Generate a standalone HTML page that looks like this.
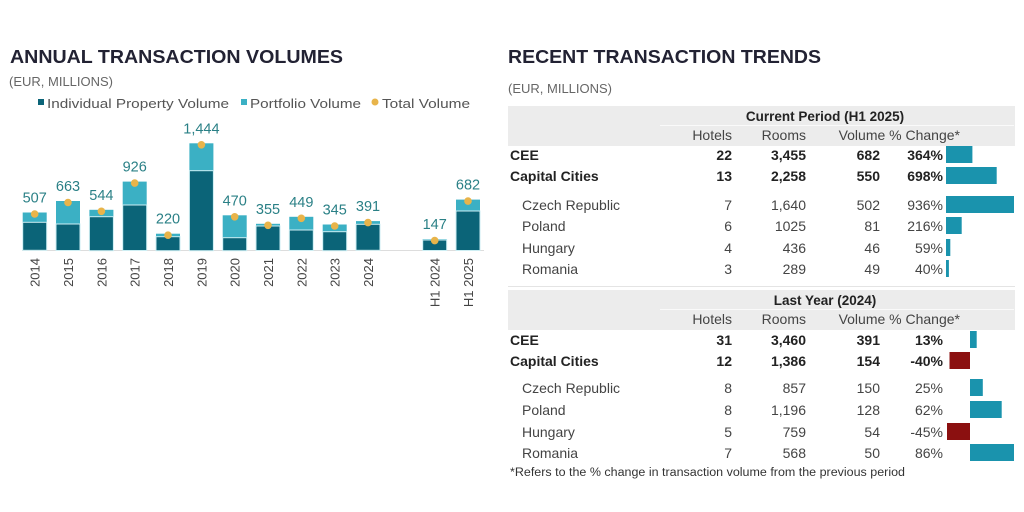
<!DOCTYPE html><html><head><style>body{margin:0;background:#fff}svg{display:block}</style></head><body>
<svg width="1024" height="512" xmlns="http://www.w3.org/2000/svg" font-family="Liberation Sans, sans-serif">
<rect width="1024" height="512" fill="#fff"/>
<text x="10" y="63" font-size="18" font-weight="bold" fill="#222233" textLength="333" lengthAdjust="spacingAndGlyphs">ANNUAL TRANSACTION VOLUMES</text>
<text x="9" y="86" font-size="13" fill="#666">(EUR, MILLIONS)</text>
<g font-size="13" fill="#555">
<rect x="38" y="99" width="6" height="6" fill="#0b6478"/><text x="47" y="108" textLength="182" lengthAdjust="spacingAndGlyphs">Individual Property Volume</text>
<rect x="241" y="99" width="6" height="6" fill="#3bb0c4"/><text x="250" y="108" textLength="111" lengthAdjust="spacingAndGlyphs">Portfolio Volume</text>
<circle cx="375" cy="102" r="3.5" fill="#e8b44a"/><text x="382" y="108" textLength="88" lengthAdjust="spacingAndGlyphs">Total Volume</text>
</g>
<line x1="22" y1="250.5" x2="484" y2="250.5" stroke="#ddd"/>
<g fill="#3bb0c4">
<rect x="22.7" y="212.5" width="24" height="37.5"/>
<rect x="56" y="201" width="24" height="49"/>
<rect x="89.4" y="209.8" width="24" height="40.2"/>
<rect x="122.7" y="181.6" width="24" height="68.4"/>
<rect x="156" y="233.7" width="24" height="16.3"/>
<rect x="189.4" y="143.3" width="24" height="106.7"/>
<rect x="222.7" y="215.3" width="24" height="34.7"/>
<rect x="256" y="223.8" width="24" height="26.2"/>
<rect x="289.3" y="216.8" width="24" height="33.2"/>
<rect x="322.7" y="224.5" width="24" height="25.5"/>
<rect x="356" y="221.1" width="24" height="28.9"/>
<rect x="422.7" y="239.1" width="24" height="10.9"/>
<rect x="456" y="199.6" width="24" height="50.4"/>
</g>
<g fill="#0b6478" stroke="#cdeef3" stroke-width="1">
<rect x="22.7" y="222.3" width="24" height="28"/>
<rect x="56" y="224" width="24" height="26.5"/>
<rect x="89.4" y="216.7" width="24" height="34"/>
<rect x="122.7" y="205" width="24" height="45.5"/>
<rect x="156" y="236.7" width="24" height="14"/>
<rect x="189.4" y="170.7" width="24" height="80"/>
<rect x="222.7" y="237.7" width="24" height="13"/>
<rect x="256" y="226" width="24" height="24.5"/>
<rect x="289.3" y="230" width="24" height="20.5"/>
<rect x="322.7" y="231.7" width="24" height="19"/>
<rect x="356" y="224.3" width="24" height="26"/>
<rect x="422.7" y="240" width="24" height="10.5"/>
<rect x="456" y="211" width="24" height="39.5"/>
</g>
<g fill="#e8b44a">
<circle cx="34.7" cy="214" r="3.8"/><circle cx="68" cy="202.5" r="3.8"/><circle cx="101.4" cy="211.3" r="3.8"/><circle cx="134.7" cy="183.1" r="3.8"/><circle cx="168" cy="235.2" r="3.8"/><circle cx="201.4" cy="144.8" r="3.8"/><circle cx="234.7" cy="216.8" r="3.8"/><circle cx="268" cy="225.3" r="3.8"/><circle cx="301.3" cy="218.3" r="3.8"/><circle cx="334.7" cy="226" r="3.8"/><circle cx="368" cy="222.6" r="3.8"/><circle cx="434.7" cy="240.6" r="3.8"/><circle cx="468" cy="201.1" r="3.8"/>
</g>
<g font-size="14.5" fill="#2a8086" text-anchor="middle">
<text x="34.7" y="202.5">507</text><text x="68" y="191">663</text><text x="101.4" y="199.8">544</text><text x="134.7" y="171.6">926</text><text x="168" y="223.7">220</text><text x="201.4" y="133.3">1,444</text><text x="234.7" y="205.3">470</text><text x="268" y="213.8">355</text><text x="301.3" y="206.8">449</text><text x="334.7" y="214.5">345</text><text x="368" y="211.1">391</text><text x="434.7" y="229.1">147</text><text x="468" y="189.6">682</text>
</g>
<g font-size="13" fill="#444" text-anchor="end">
<text transform="translate(39.7,258) rotate(-90)">2014</text>
<text transform="translate(73,258) rotate(-90)">2015</text>
<text transform="translate(106.4,258) rotate(-90)">2016</text>
<text transform="translate(139.7,258) rotate(-90)">2017</text>
<text transform="translate(173,258) rotate(-90)">2018</text>
<text transform="translate(206.4,258) rotate(-90)">2019</text>
<text transform="translate(239.7,258) rotate(-90)">2020</text>
<text transform="translate(273,258) rotate(-90)">2021</text>
<text transform="translate(306.3,258) rotate(-90)">2022</text>
<text transform="translate(339.7,258) rotate(-90)">2023</text>
<text transform="translate(373,258) rotate(-90)">2024</text>
<text transform="translate(439.7,258) rotate(-90)">H1 2024</text>
<text transform="translate(473,258) rotate(-90)">H1 2025</text>
</g>

<text x="508" y="63" font-size="18" font-weight="bold" fill="#222233" textLength="313" lengthAdjust="spacingAndGlyphs">RECENT TRANSACTION TRENDS</text>
<text x="508" y="93" font-size="13" fill="#666">(EUR, MILLIONS)</text>

<rect x="508" y="106" width="507" height="40" fill="#ececec"/>
<line x1="660" x2="1014" y1="125.5" y2="125.5" stroke="#fafafa"/>
<text x="825" y="121" font-size="13.5" font-weight="bold" fill="#222" text-anchor="middle">Current Period (H1 2025)</text>
<g font-size="14" fill="#444" text-anchor="end"><text x="732" y="140">Hotels</text><text x="806" y="140">Rooms</text><text x="960" y="140">Volume % Change*</text></g>
<g font-size="14" font-weight="bold" fill="#222">
<text x="510" y="160">CEE</text><text x="510" y="181">Capital Cities</text>
<g text-anchor="end">
<text x="732" y="160">22</text><text x="806" y="160">3,455</text><text x="880" y="160">682</text><text x="943" y="160">364%</text>
<text x="732" y="181">13</text><text x="806" y="181">2,258</text><text x="880" y="181">550</text><text x="943" y="181">698%</text>
</g></g>
<g font-size="14" fill="#444">
<text x="522" y="210">Czech Republic</text><text x="522" y="231">Poland</text><text x="522" y="253">Hungary</text><text x="522" y="274">Romania</text>
<g text-anchor="end">
<text x="732" y="210">7</text><text x="806" y="210">1,640</text><text x="880" y="210">502</text><text x="943" y="210">936%</text>
<text x="732" y="231">6</text><text x="806" y="231">1025</text><text x="880" y="231">81</text><text x="943" y="231">216%</text>
<text x="732" y="253">4</text><text x="806" y="253">436</text><text x="880" y="253">46</text><text x="943" y="253">59%</text>
<text x="732" y="274">3</text><text x="806" y="274">289</text><text x="880" y="274">49</text><text x="943" y="274">40%</text>
</g></g>
<g fill="#1a93ad">
<rect x="946" y="146" width="26.4" height="17"/><rect x="946" y="167" width="50.7" height="17"/><rect x="946" y="196" width="68" height="17"/><rect x="946" y="217" width="15.7" height="17"/><rect x="946" y="239" width="4.3" height="17"/><rect x="946" y="260" width="2.9" height="17"/>
</g>
<line x1="508" x2="1015" y1="286.5" y2="286.5" stroke="#e4e4e4"/>

<rect x="508" y="290" width="507" height="40" fill="#ececec"/>
<line x1="660" x2="1014" y1="309.5" y2="309.5" stroke="#fafafa"/>
<text x="825" y="305" font-size="13.5" font-weight="bold" fill="#222" text-anchor="middle">Last Year (2024)</text>
<g font-size="14" fill="#444" text-anchor="end"><text x="732" y="324">Hotels</text><text x="806" y="324">Rooms</text><text x="960" y="324">Volume % Change*</text></g>
<g font-size="14" font-weight="bold" fill="#222">
<text x="510" y="345">CEE</text><text x="510" y="366">Capital Cities</text>
<g text-anchor="end">
<text x="732" y="345">31</text><text x="806" y="345">3,460</text><text x="880" y="345">391</text><text x="943" y="345">13%</text>
<text x="732" y="366">12</text><text x="806" y="366">1,386</text><text x="880" y="366">154</text><text x="943" y="366">-40%</text>
</g></g>
<g font-size="14" fill="#444">
<text x="522" y="393">Czech Republic</text><text x="522" y="415">Poland</text><text x="522" y="437">Hungary</text><text x="522" y="458">Romania</text>
<g text-anchor="end">
<text x="732" y="393">8</text><text x="806" y="393">857</text><text x="880" y="393">150</text><text x="943" y="393">25%</text>
<text x="732" y="415">8</text><text x="806" y="415">1,196</text><text x="880" y="415">128</text><text x="943" y="415">62%</text>
<text x="732" y="437">5</text><text x="806" y="437">759</text><text x="880" y="437">54</text><text x="943" y="437">-45%</text>
<text x="732" y="458">7</text><text x="806" y="458">568</text><text x="880" y="458">50</text><text x="943" y="458">86%</text>
</g></g>
<rect x="970" y="331" width="6.7" height="17" fill="#1a93ad"/>
<rect x="949.5" y="352" width="20.5" height="17" fill="#8b1010"/>
<rect x="970" y="379" width="12.8" height="17" fill="#1a93ad"/>
<rect x="970" y="401" width="31.7" height="17" fill="#1a93ad"/>
<rect x="947" y="423" width="23" height="17" fill="#8b1010"/>
<rect x="970" y="444" width="44" height="17" fill="#1a93ad"/>
<text x="510" y="476" font-size="11.5" fill="#333" textLength="395" lengthAdjust="spacingAndGlyphs">*Refers to the % change in transaction volume from the previous period</text>
</svg></body></html>
